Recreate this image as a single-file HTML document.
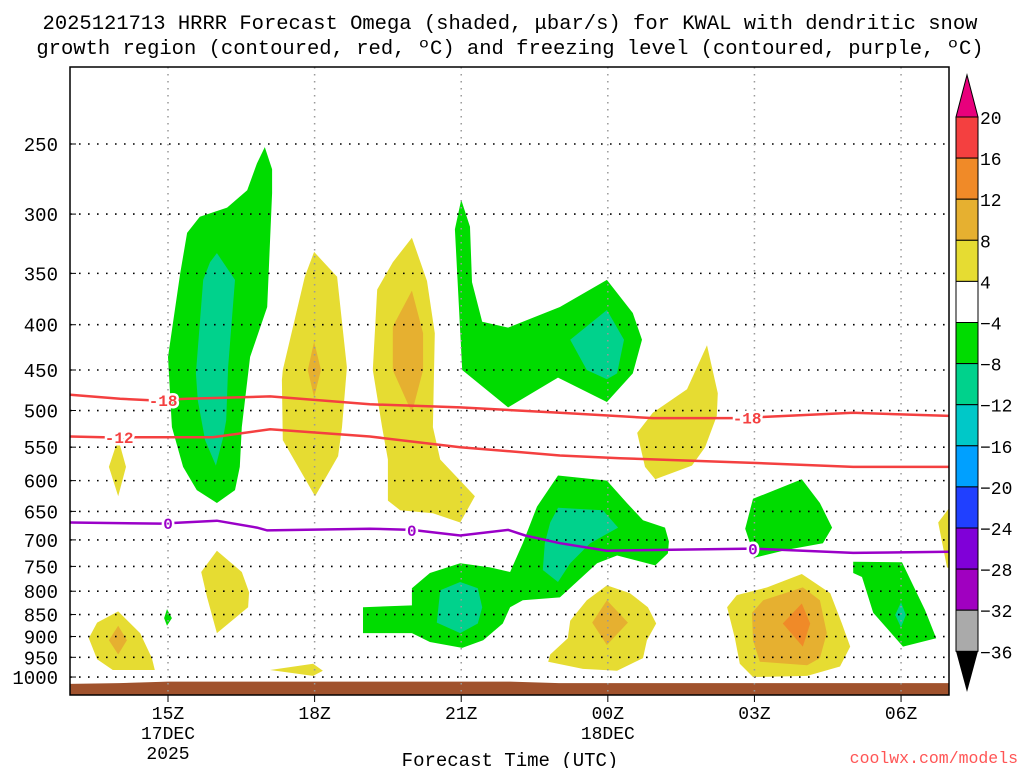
<!DOCTYPE html>
<html><head><meta charset="utf-8"><style>
html,body{margin:0;padding:0;background:#fff;}
svg{display:block;}
text{font-family:"Liberation Mono","DejaVu Sans Mono",monospace;}
</style></head><body>
<svg id="chart" width="1024" height="768" viewBox="0 0 1024 768" xmlns="http://www.w3.org/2000/svg">
<text x="510" y="29" text-anchor="middle" font-size="20.5" fill="#000">2025121713 HRRR Forecast Omega (shaded, μbar/s) for KWAL with dendritic snow</text>
<text x="510" y="54" text-anchor="middle" font-size="20.5" fill="#000">growth region (contoured, red, ºC) and freezing level (contoured, purple, ºC)</text>
<g id="plot"></g>
<g id="cbar"></g>
<text x="510" y="766" text-anchor="middle" font-size="19">Forecast Time (UTC)</text>
<text x="1018" y="763" text-anchor="end" font-size="16.5" fill="#ff5555">coolwx.com/models</text>
</svg>
<script>
const pressureTicks=[250,300,350,400,450,500,550,600,650,700,750,800,850,900,950,1000];
const hourTicks=[0,3,6,9,12,15];
const hourLabels=[["15Z","17DEC","2025"],["18Z"],["21Z"],["00Z","18DEC"],["03Z"],["06Z"]];
const groundHours=[-2,-1,0,1,2,3,4,5,6,7,8,9,10,11,12,13,14,15,16];
const groundPres=[1018,1016,1012,1012,1012,1012,1012,1012,1012,1012,1016,1016,1016,1016,1016,1016,1016,1016,1016];
const yellowBlobs=[
 [[2.99,331],[3.46,353],[3.66,447],[3.56,522],[3.48,563],[3.01,625],[2.35,540],[2.33,462],[2.35,450],[2.80,353]],
 [[4.99,319],[5.30,357],[5.46,409],[5.42,522],[5.57,568],[5.98,600],[6.28,625],[5.98,669],[5.42,653],[4.75,648],[4.50,632],[4.50,568],[4.38,522],[4.19,450],[4.28,365],[4.60,340]],
 [[11.03,422],[11.25,478],[11.23,507],[10.99,550],[10.72,577],[9.97,598],[9.76,579],[9.60,530],[9.92,503],[10.62,473]],
 [[-1.02,538],[-0.86,579],[-1.02,625],[-1.21,579]],
 [[8.98,788],[9.45,804],[9.82,834],[9.99,870],[9.80,909],[9.72,952],[9.19,984],[8.49,979],[7.78,961],[7.82,943],[8.18,904],[8.23,864],[8.57,819]],
 [[-1.02,843],[-0.57,892],[-0.33,952],[-0.27,982],[-1.13,982],[-1.45,955],[-1.62,904],[-1.45,868]],
 [[1.00,720],[1.51,761],[1.66,802],[1.64,834],[1.00,892],[0.80,813],[0.68,761]],
 [[2.09,982],[2.97,966],[3.17,984],[2.97,997]],
 [[12.97,765],[13.55,804],[13.79,870],[13.96,924],[13.75,973],[13.08,997],[11.97,1000],[11.70,966],[11.60,904],[11.44,834],[11.64,808],[12.26,792]],
 [[16.1,632],[15.76,669],[15.94,752],[16.1,757]]
];
const goldBlobs=[
 [[2.99,418],[3.13,450],[2.99,483],[2.86,450]],
 [[4.99,366],[5.22,409],[5.22,450],[4.99,503],[4.60,450],[4.60,402]],
 [[8.98,819],[9.41,868],[8.98,920],[8.68,868]],
 [[-1.02,875],[-0.84,909],[-1.02,943],[-1.21,909]],
 [[12.99,792],[13.34,819],[13.48,892],[13.34,952],[13.08,970],[12.11,961],[11.97,909],[11.95,846],[12.18,819]]
];
const orangeBlobs=[
 [[12.97,826],[13.14,870],[12.99,924],[12.58,870]]
];
const greenBlobs=[
 [[1.98,252],[2.13,267],[2.13,284],[2.03,382],[1.68,435],[1.51,522],[1.47,579],[1.37,615],[1.00,636],[0.59,615],[0.31,579],[0.08,522],[0.0,435],[0.25,350],[0.39,315],[0.65,302],[1.21,295],[1.62,282],[1.82,263]],
 [[6.00,289],[6.18,310],[6.22,358],[6.43,397],[6.96,403],[7.26,397],[8.02,382],[8.98,356],[9.51,388],[9.70,416],[9.51,454],[8.98,489],[7.98,459],[6.96,496],[6.02,450],[5.87,312]],
 [[3.99,834],[4.99,830],[4.99,794],[5.36,763],[5.98,744],[6.59,752],[7.00,761],[7.26,706],[7.55,642],[7.98,592],[8.98,600],[9.39,636],[9.72,665],[10.17,678],[10.25,703],[10.23,725],[9.97,748],[9.19,729],[8.78,744],[8.02,813],[7.26,819],[7.00,834],[6.85,870],[6.45,909],[6.02,927],[5.36,913],[4.99,892],[3.99,892]],
 [[-0.02,838],[0.08,858],[-0.02,875],[-0.08,858]],
 [[12.97,598],[13.34,636],[13.59,678],[13.40,706],[12.67,718],[12.01,733],[11.81,680],[11.97,629]],
 [[14.02,741],[15.02,742],[15.49,840],[15.72,904],[15.04,924],[14.43,846],[14.20,771],[14.02,763]]
];
const tealBlobs=[
 [[1.00,332],[1.37,356],[1.23,447],[1.19,513],[1.13,536],[0.98,577],[0.76,540],[0.61,487],[0.57,454],[0.72,356],[0.86,340]],
 [[8.98,385],[9.33,416],[9.19,454],[8.98,461],[8.57,450],[8.23,416]],
 [[5.57,798],[5.98,781],[6.34,794],[6.43,834],[6.34,870],[5.98,892],[5.50,868]],
 [[7.98,644],[8.90,648],[9.21,678],[8.64,706],[8.23,744],[7.98,781],[7.67,757],[7.71,706],[7.82,669]],
 [[15.00,823],[15.10,851],[15.00,879],[14.88,851]]
];
const iso18Hours=[-2,-0.98,-0.31,0.39,2.09,4.13,5.98,8.02,9.92,11.64,14.02,16];
const iso18Pres=[480,485,487,485,482,492,496,503,510,510,503,507];
const iso12Hours=[-2,-1.33,-0.63,0.92,2.09,4.13,5.98,8.02,9.25,11.97,14.02,16];
const iso12Pres=[535,536,536,536,525,535,550,562,566,573,579,579];
const iso0Hours=[-2,-0.16,1.0,1.82,2.03,4.13,4.99,5.98,6.96,7.31,8.02,8.98,11.97,14.02,16];
const iso0Pres=[669,671,666,678,683,680,682,692,682,692,706,720,716,724,722];
const iso18LabelHours=[-0.1,11.85];
const iso12LabelHours=[-1.0];
const iso0LabelHours=[0.0,4.99,11.97];
const cbarLabels=["20","16","12","8","4","−4","−8","−12","−16","−20","−24","−28","−32","−36"];
const cbarColors=["#f44040","#f08a28","#e6b030","#e6dc32","#ffffff","#00dc00","#00d28c","#00c8c8","#00a0ff","#2040ff","#8000d8","#a000c0","#aaaaaa"];

const NS="http://www.w3.org/2000/svg";
const X0=70,X1=949,Y0=67,Y1=695;
function xs(h){return 168+48.87*h;}
function ys(p){return 144+384.5*Math.log(p/250);}
function mk(tag,attrs,parent){const e=document.createElementNS(NS,tag);for(const k in attrs)e.setAttribute(k,attrs[k]);parent.appendChild(e);return e;}
const plot=document.getElementById('plot');
const defs=mk('defs',{},plot);
const cp=mk('clipPath',{id:'clip'},defs);
mk('rect',{x:X0,y:Y0,width:X1-X0,height:Y1-Y0},cp);
const inner=mk('g',{'clip-path':'url(#clip)'},plot);


function poly(list,color,name){
 list.forEach(b=>{const el=mk('polygon',{points:b.map(q=>xs(q[0]).toFixed(1)+','+ys(q[1]).toFixed(1)).join(' '),fill:color},inner);
 
 });
}
poly(yellowBlobs,'#e6dc32','omega-4-8-region');
poly(goldBlobs,'#e6b030','omega-8-12-region');
poly(orangeBlobs,'#f08a28','omega-12-16-region');
poly(greenBlobs,'#00dc00','omega-neg4-neg8-region');
poly(tealBlobs,'#00d28c','omega-neg8-neg12-region');
// ground
let gpts=groundHours.map((h,i)=>xs(h).toFixed(1)+','+ys(groundPres[i]).toFixed(1));
gpts.push(xs(16)+','+Y1,xs(-2)+','+Y1);
const ground=mk('polygon',{points:gpts.join(' '),fill:'#a0522d'},inner);


// grid
pressureTicks.forEach(p=>{const l=mk('line',{x1:X0,x2:X1,y1:ys(p),y2:ys(p),stroke:'#000','stroke-width':1.6,'stroke-dasharray':'1.6,7.4'},inner);
 
 });
hourTicks.forEach(h=>{const l=mk('line',{x1:xs(h),x2:xs(h),y1:Y0,y2:Y1,stroke:'#999','stroke-width':1.5,'stroke-dasharray':'1.5,5.5'},inner);
 
 });
// isotherms
function iso(hours,pres,color,name){
 const d=hours.map((h,i)=>(i?'L':'M')+xs(h).toFixed(1)+','+ys(pres[i]).toFixed(1)).join(' ');
 const el=mk('path',{d:d,fill:'none',stroke:color,'stroke-width':2.5},inner);
 
 
}
function presAt(hours,pres,h){for(let i=0;i<hours.length-1;i++){if(h>=hours[i]&&h<=hours[i+1]){const t=(h-hours[i])/(hours[i+1]-hours[i]);return pres[i]+t*(pres[i+1]-pres[i]);}}return pres[0];}
function isoLabels(hours,pres,lh,txt,color,name){
 lh.forEach(h=>{const p=presAt(hours,pres,h);
  const t=mk('text',{x:xs(h),y:ys(p)+6,'text-anchor':'middle','font-size':16,'font-weight':'bold',fill:color,stroke:'#fff','stroke-width':5,'paint-order':'stroke','font-family':'Liberation Sans, sans-serif'},inner);
  t.textContent=txt;
  
  });
}
iso(iso18Hours,iso18Pres,'#f44040','isotherm-minus18');
iso(iso12Hours,iso12Pres,'#f44040','isotherm-minus12');
iso(iso0Hours,iso0Pres,'#9a00c8','freezing-level');
isoLabels(iso18Hours,iso18Pres,iso18LabelHours,'-18','#f44040','isotherm-label');
isoLabels(iso12Hours,iso12Pres,iso12LabelHours,'-12','#f44040','isotherm-label');
isoLabels(iso0Hours,iso0Pres,iso0LabelHours,'0','#9a00c8','freezing-label');
// frame
const fr=mk('rect',{x:X0,y:Y0,width:X1-X0,height:Y1-Y0,fill:'none',stroke:'#000','stroke-width':1.5},plot);


// y ticks
pressureTicks.forEach(p=>{
 const t=mk('text',{x:58,y:ys(p)+7,'text-anchor':'end','font-size':19},plot);
 t.textContent=p;
 
 
 const l=mk('line',{x1:X0,x2:X0+6,y1:ys(p),y2:ys(p),stroke:'#000','stroke-width':1},plot);
 
 
});
// x ticks
hourTicks.forEach((h,i)=>{
 const l=mk('line',{x1:xs(h),x2:xs(h),y1:Y1,y2:Y1+7,stroke:'#000','stroke-width':1},plot);
 
 
 hourLabels[i].forEach((s,j)=>{
  const t=mk('text',{x:xs(h),y:719+j*20,'text-anchor':'middle','font-size':18},plot);
  t.textContent=s;
  
  
 });
});
// colorbar
const cb=document.getElementById('cbar');
const CX=956,CW=22,CT=117,CH=41.1;
const up=mk('polygon',{points:`${CX},${CT} ${CX+CW},${CT} ${CX+CW/2},75`,fill:'#e8007c',stroke:'#000','stroke-width':1},cb);


cbarColors.forEach((c,i)=>{
 const r=mk('rect',{x:CX,y:CT+i*CH,width:CW,height:CH,fill:c,stroke:'#000','stroke-width':1},cb);
 
 
});
const yb=CT+cbarColors.length*CH;
const dn=mk('polygon',{points:`${CX},${yb} ${CX+CW},${yb} ${CX+CW/2},692`,fill:'#000'},cb);


cbarLabels.forEach((s,i)=>{
 const t=mk('text',{x:980,y:CT+i*CH+7,'font-size':18},cb);
 t.textContent=s;
 
 
});
</script>
</body></html>
